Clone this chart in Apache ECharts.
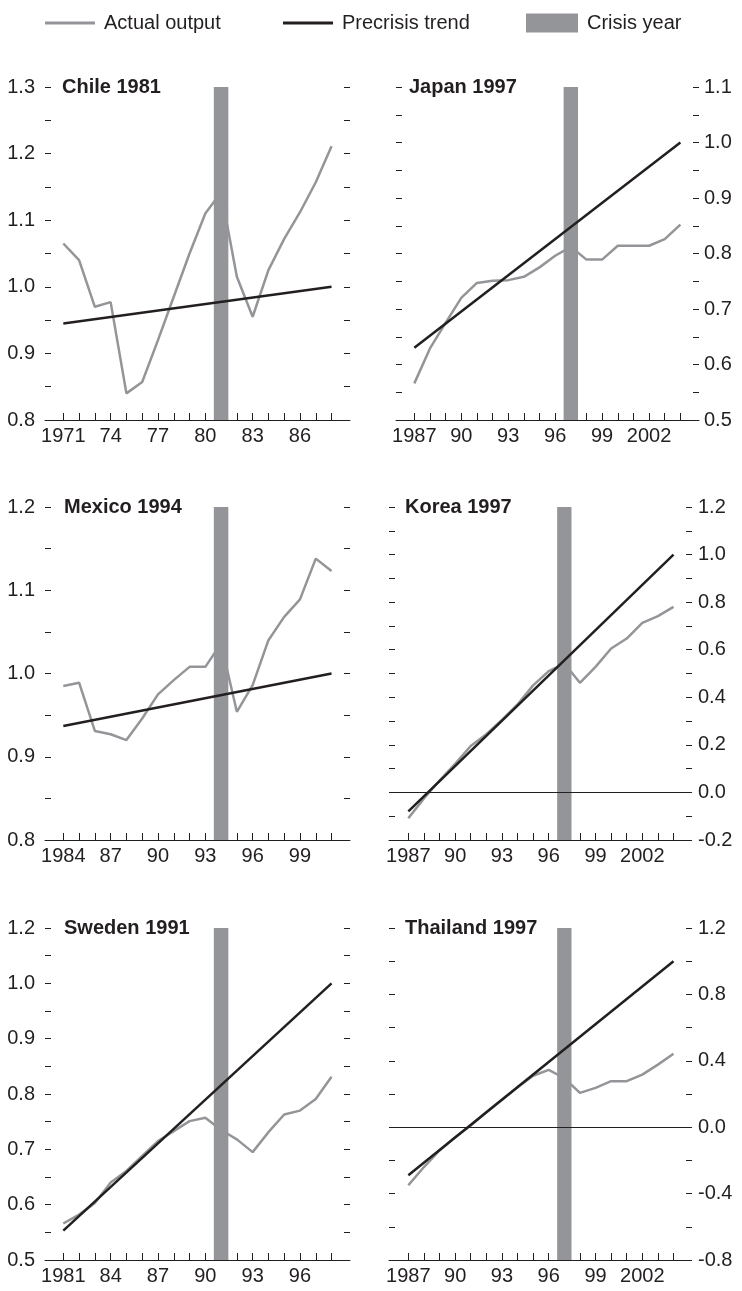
<!DOCTYPE html>
<html>
<head>
<meta charset="utf-8">
<title>Actual output vs precrisis trend</title>
<script src="https://cdn.jsdelivr.net/npm/echarts@6/dist/echarts.min.js"></script>
<style>
    html, body { margin: 0; padding: 0; background: #fff; }
    #main { width: 742px; height: 1291px; }
</style>
</head>
<body>
<div id="main"></div>
<script>
// 数据
var chileYears = [1971, 1972, 1973, 1974, 1975, 1976, 1977, 1978, 1979, 1980, 1981, 1982, 1983, 1984, 1985, 1986, 1987, 1988];
var chileActual = [1.065, 1.04, 0.97, 0.977, 0.84, 0.857, 0.92, 0.985, 1.05, 1.11, 1.142, 1.015, 0.955, 1.025, 1.072, 1.112, 1.157, 1.211];
var chileTrend = [0.945, 1.0];
var chileYLabels = ['0.8', '0.9', '1.0', '1.1', '1.2', '1.3'];
var chileXLabels = ['1971', '74', '77', '80', '83', '86'];

var japanYears = [1987, 1988, 1989, 1990, 1991, 1992, 1993, 1994, 1995, 1996, 1997, 1998, 1999, 2000, 2001, 2002, 2003, 2004];
var japanActual = [0.566, 0.629, 0.675, 0.72, 0.747, 0.751, 0.752, 0.758, 0.775, 0.796, 0.812, 0.789, 0.789, 0.814, 0.814, 0.814, 0.826, 0.852];
var japanTrend = [0.63, 1.0];
var japanYLabels = ['0.5', '0.6', '0.7', '0.8', '0.9', '1.0', '1.1'];
var japanXLabels = ['1987', '90', '93', '96', '99', '2002'];

var mexicoYears = [1984, 1985, 1986, 1987, 1988, 1989, 1990, 1991, 1992, 1993, 1994, 1995, 1996, 1997, 1998, 1999, 2000, 2001];
var mexicoActual = [0.985, 0.989, 0.931, 0.927, 0.92, 0.946, 0.975, 0.992, 1.008, 1.008, 1.036, 0.954, 0.986, 1.04, 1.068, 1.089, 1.138, 1.123];
var mexicoTrend = [0.937, 1.0];
var mexicoYLabels = ['0.8', '0.9', '1.0', '1.1', '1.2'];
var mexicoXLabels = ['1984', '87', '90', '93', '96', '99'];

var koreaYears = [1987, 1988, 1989, 1990, 1991, 1992, 1993, 1994, 1995, 1996, 1997, 1998, 1999, 2000, 2001, 2002, 2003, 2004];
var koreaActual = [-0.109, -0.025, 0.05, 0.12, 0.195, 0.245, 0.305, 0.37, 0.45, 0.51, 0.542, 0.461, 0.528, 0.605, 0.647, 0.713, 0.741, 0.78];
var koreaTrend = [-0.08, 1.0];
var koreaYLabels = ['-0.2', '0.0', '0.2', '0.4', '0.6', '0.8', '1.0', '1.2'];
var koreaXLabels = ['1987', '90', '93', '96', '99', '2002'];

var swedenYears = [1981, 1982, 1983, 1984, 1985, 1986, 1987, 1988, 1989, 1990, 1991, 1992, 1993, 1994, 1995, 1996, 1997, 1998];
var swedenActual = [0.566, 0.582, 0.603, 0.64, 0.661, 0.688, 0.715, 0.733, 0.751, 0.757, 0.735, 0.718, 0.695, 0.731, 0.763, 0.77, 0.791, 0.831];
var swedenTrend = [0.553, 1.0];
var swedenYLabels = ['0.5', '0.6', '0.7', '0.8', '0.9', '1.0', '1.2'];
var swedenXLabels = ['1981', '84', '87', '90', '93', '96'];

var thailandYears = [1987, 1988, 1989, 1990, 1991, 1992, 1993, 1994, 1995, 1996, 1997, 1998, 1999, 2000, 2001, 2002, 2003, 2004];
var thailandActual = [-0.35, -0.24, -0.14, -0.06, 0.01, 0.09, 0.165, 0.24, 0.31, 0.345, 0.295, 0.207, 0.237, 0.277, 0.277, 0.317, 0.377, 0.442];
var thailandTrend = [-0.29, 1.0];
var thailandYLabels = ['-0.8', '-0.4', '0.0', '0.4', '0.8', '1.2'];
var thailandXLabels = ['1987', '90', '93', '96', '99', '2002'];

var crisisYears = [1981, 1997, 1994, 1997, 1991, 1997];

var FONT = '"Liberation Sans", Arial, Helvetica, sans-serif';
var GRAY = '#939598';
var BLACK = '#231f20';

// 六个小图的位置
var panels = [
    { title: 'Chile 1981', years: chileYears, actual: chileActual, trend: chileTrend, yLabels: chileYLabels, xLabels: chileXLabels,
      yMin: 0.8, yMax: 1.3, major: 0.1, minor: 0.05, side: 'left', left: 45, top: 87, width: 305, height: 333, padL: 1.16, padR: 1.17, titleLeft: 62 },
    { title: 'Japan 1997', years: japanYears, actual: japanActual, trend: japanTrend, yLabels: japanYLabels, xLabels: japanXLabels,
      yMin: 0.5, yMax: 1.1, major: 0.1, minor: 0.05, side: 'right', left: 396, top: 87, width: 303, height: 333, padL: 1.17, padR: 1.19, titleLeft: 409, rightInside: true, rightMargin: 5 },
    { title: 'Mexico 1994', years: mexicoYears, actual: mexicoActual, trend: mexicoTrend, yLabels: mexicoYLabels, xLabels: mexicoXLabels,
      yMin: 0.8, yMax: 1.2, major: 0.1, minor: 0.05, side: 'left', left: 45, top: 507, width: 305, height: 333, padL: 1.16, padR: 1.17, titleLeft: 64 },
    { title: 'Korea 1997', years: koreaYears, actual: koreaActual, trend: koreaTrend, yLabels: koreaYLabels, xLabels: koreaXLabels,
      yMin: -0.2, yMax: 1.2, major: 0.2, minor: 0.1, side: 'right', left: 389, top: 507, width: 297, height: 333, padL: 1.24, padR: 0.8, titleLeft: 405, zero: true, rightInside: false, rightMargin: 12 },
    { title: 'Sweden 1991', years: swedenYears, actual: swedenActual, trend: swedenTrend, yLabels: swedenYLabels, xLabels: swedenXLabels,
      yMin: 0.5, yMax: 1.1, major: 0.1, minor: 0.05, side: 'left', left: 45, top: 928, width: 305, height: 332, padL: 1.16, padR: 1.17, titleLeft: 64 },
    { title: 'Thailand 1997', years: thailandYears, actual: thailandActual, trend: thailandTrend, yLabels: thailandYLabels, xLabels: thailandXLabels,
      yMin: -0.8, yMax: 1.2, major: 0.4, minor: 0.2, side: 'right', left: 389, top: 928, width: 297, height: 332, padL: 1.24, padR: 0.8, titleLeft: 405, zero: true, rightInside: false, rightMargin: 12 }
];

function yFormatter(p) {
    return function (v) {
        var k = (v - p.yMin) / p.major;
        var r = Math.round(k);
        if (Math.abs(k - r) > 1e-6) {
            return '';
        }
        return p.yLabels[r] || '';
    };
}

function xFormatter(p) {
    return function (v) {
        var r = Math.round((v - p.years[0]) / 3);
        return p.xLabels[r] || '';
    };
}

function yAxisFor(p, i, pos) {
    var labelled = p.side === pos;
    var inside = true;
    var margin = 10;
    if (pos === 'right' && p.side === 'right') {
        inside = p.rightInside;
        margin = p.rightMargin;
    }
    return {
        type: 'value',
        gridIndex: i,
        position: pos,
        min: p.yMin,
        max: p.yMax,
        interval: p.minor,
        axisLine: { show: false },
        axisTick: { show: true, inside: inside, length: 6, lineStyle: { color: BLACK, width: 1 } },
        axisLabel: { show: labelled, formatter: yFormatter(p), margin: margin, color: BLACK, fontSize: 20, fontFamily: FONT },
        splitLine: { show: false }
    };
}

var grids = [], xAxes = [], yAxes = [], titles = [], series = [];

panels.forEach(function (p, i) {
    var first = p.years[0];
    var last = p.years[p.years.length - 1];
    var labelYears = p.xLabels.map(function (s, k) { return first + 3 * k; });

    grids.push({ left: p.left, top: p.top, width: p.width, height: p.height, outerBoundsMode: 'none' });

    xAxes.push({
        type: 'value',
        gridIndex: i,
        min: first - p.padL,
        max: last + p.padR,
        axisLine: { show: true, onZero: false, lineStyle: { color: BLACK, width: 1 } },
        axisTick: { show: true, inside: true, length: 7, customValues: p.years, lineStyle: { color: BLACK, width: 1 } },
        axisLabel: { customValues: labelYears, formatter: xFormatter(p), margin: 6, color: BLACK, fontSize: 20, fontFamily: FONT },
        splitLine: { show: false }
    });

    yAxes.push(yAxisFor(p, i, 'left'));
    yAxes.push(yAxisFor(p, i, 'right'));

    titles.push({
        text: p.title,
        left: p.titleLeft,
        top: p.top - 10,
        padding: 0,
        textStyle: { color: BLACK, fontSize: 20, fontWeight: 'bold', fontFamily: FONT }
    });

    // 实际产出
    series.push({
        name: 'Actual output',
        type: 'line',
        xAxisIndex: i,
        yAxisIndex: 2 * i,
        symbol: 'none',
        z: 3,
        data: p.years.map(function (y, k) { return [y, p.actual[k]]; }),
        lineStyle: { color: GRAY, width: 2.5 },
        itemStyle: { color: GRAY },
        markArea: {
            silent: true,
            itemStyle: { color: GRAY },
            data: [[{ xAxis: crisisYears[i] - 0.46 }, { xAxis: crisisYears[i] + 0.46 }]]
        }
    });

    // 危机前趋势
    var trendSeries = {
        name: 'Precrisis trend',
        type: 'line',
        xAxisIndex: i,
        yAxisIndex: 2 * i,
        symbol: 'none',
        z: 4,
        data: [[first, p.trend[0]], [last, p.trend[1]]],
        lineStyle: { color: BLACK, width: 2.5 },
        itemStyle: { color: BLACK }
    };
    if (p.zero) {
        trendSeries.markLine = {
            silent: true,
            symbol: 'none',
            label: { show: false },
            lineStyle: { color: BLACK, width: 1, type: 'solid' },
            data: [{ yAxis: 0 }]
        };
    }
    series.push(trendSeries);
});

// 图例用
series.push({
    name: 'Crisis year',
    type: 'bar',
    xAxisIndex: 0,
    yAxisIndex: 0,
    data: [],
    itemStyle: { color: GRAY }
});

var legendText = { color: BLACK, fontSize: 20, fontFamily: FONT, padding: [0, 0, 0, 4] };

var option = {
    animation: false,
    backgroundColor: '#fff',
    title: titles,
    legend: [
        { left: 45, top: 13, padding: 0, itemWidth: 50, itemHeight: 3, selectedMode: false, textStyle: legendText, data: [{ name: 'Actual output', icon: 'rect' }] },
        { left: 283, top: 13, padding: 0, itemWidth: 50, itemHeight: 3, selectedMode: false, textStyle: legendText, data: [{ name: 'Precrisis trend', icon: 'rect' }] },
        { left: 526, top: 13, padding: 0, itemWidth: 52, itemHeight: 19, selectedMode: false, textStyle: legendText, data: [{ name: 'Crisis year', icon: 'rect' }] }
    ],
    grid: grids,
    xAxis: xAxes,
    yAxis: yAxes,
    series: series
};

var chart = echarts.init(document.getElementById('main'));
chart.setOption(option, true);
</script>
</body>
</html>
